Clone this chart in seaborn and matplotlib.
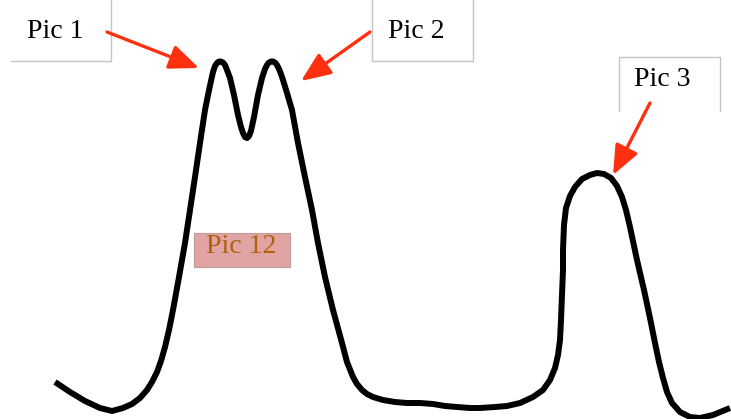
import matplotlib
matplotlib.use("Agg")
import matplotlib.pyplot as plt
import seaborn as sns

# curve (pixel coords, y down)
curve_x = [55, 70, 85, 100, 112, 123, 132, 140, 147, 152, 157, 161, 165, 169, 173, 179,
           185, 190, 195, 200, 205, 208, 211, 213, 215, 217, 219, 221, 223, 225, 227,
           230, 234, 238, 241, 243, 245, 247, 249, 251, 254, 258, 262, 265, 267, 269,
           271, 273, 275, 277, 279, 281, 283, 287, 292, 298, 305, 312, 318, 325, 333,
           342, 347, 353, 357, 362, 367, 373, 383, 395, 407, 420, 433, 445, 457, 470,
           480, 495, 507, 520, 533, 543, 550, 555, 558, 560, 561, 562, 563, 563, 564,
           566, 570, 575, 582, 590, 597, 604, 611, 617, 622, 626, 630, 637, 644, 650,
           655, 659, 663, 667, 672, 680, 690, 700, 713, 730]
curve_y = [382, 392, 401, 408, 411, 408, 404, 398, 390, 382, 372, 361, 347, 330, 310, 277,
           243, 210, 177, 143, 110, 95, 81, 72, 66, 63, 61.5, 61.5, 62.5, 65, 70,
           78, 95, 115, 127, 133, 137, 138, 136, 131, 117, 95, 78, 69, 65, 62.5,
           61.5, 61.5, 62.5, 65, 69, 74, 80, 93, 110, 143, 177, 210, 243, 277, 310,
           343, 362, 377, 384, 390, 394, 397, 400, 402, 403, 403, 404, 406, 407, 408,
           408, 407, 406, 403, 397, 390, 380, 368, 355, 340, 320, 295, 270, 250, 225,
           208, 196, 187, 179, 175, 173, 174, 178, 186, 197, 210, 227, 260, 290, 318,
           343, 362, 378, 392, 403, 412, 417, 418, 415, 408]

labels = ["Pic 1", "Pic 2", "Pic 3", "Pic 12"]

sns.set_style("white")
plt.rcParams['font.family'] = ['Liberation Serif', 'DejaVu Serif']

fig = plt.figure(figsize=(7.31, 4.19), dpi=100)
ax = fig.add_axes([0, 0, 1, 1])

sns.lineplot(x=curve_x, y=curve_y, sort=False, estimator=None, color='black',
             linewidth=4.3, ax=ax, solid_joinstyle='round', solid_capstyle='butt')

# label boxes (only the visible edges)
edge = '#c4c4c4'
ax.plot([111, 111, 11], [0, 61, 61], color=edge, lw=1)
ax.plot([372, 372, 473, 473], [0, 61, 61, 0], color=edge, lw=1)
ax.plot([619, 619, 720, 720], [111, 57, 57, 111], color=edge, lw=1)
ax.add_patch(plt.Rectangle((194, 233), 96, 34, facecolor='#e0a4a4',
                           edgecolor='#c39a9a', lw=0.8))

ax.text(55, 38, labels[0], fontsize=20, ha='center', va='baseline', color='black')
ax.text(416, 38, labels[1], fontsize=20, ha='center', va='baseline', color='black')
ax.text(662, 86, labels[2], fontsize=20, ha='center', va='baseline', color='black')
ax.text(241, 253, labels[3], fontsize=20, ha='center', va='baseline', color='#b0600a')

# arrows
red = '#ff3010'
arrow_style = dict(arrowstyle='-|>,head_length=1.8,head_width=0.75', mutation_scale=10,
                   lw=2.4, color=red, shrinkA=0, shrinkB=0)
ax.annotate('', xy=(199, 68), xytext=(107, 32), arrowprops=arrow_style)
ax.annotate('', xy=(301, 81), xytext=(370, 32), arrowprops=arrow_style)
ax.annotate('', xy=(613, 175), xytext=(650, 103), arrowprops=arrow_style)

ax.set_xlim(0, 731)
ax.set_ylim(419, 0)
ax.axis('off')

fig.savefig('out.png', dpi=100)
